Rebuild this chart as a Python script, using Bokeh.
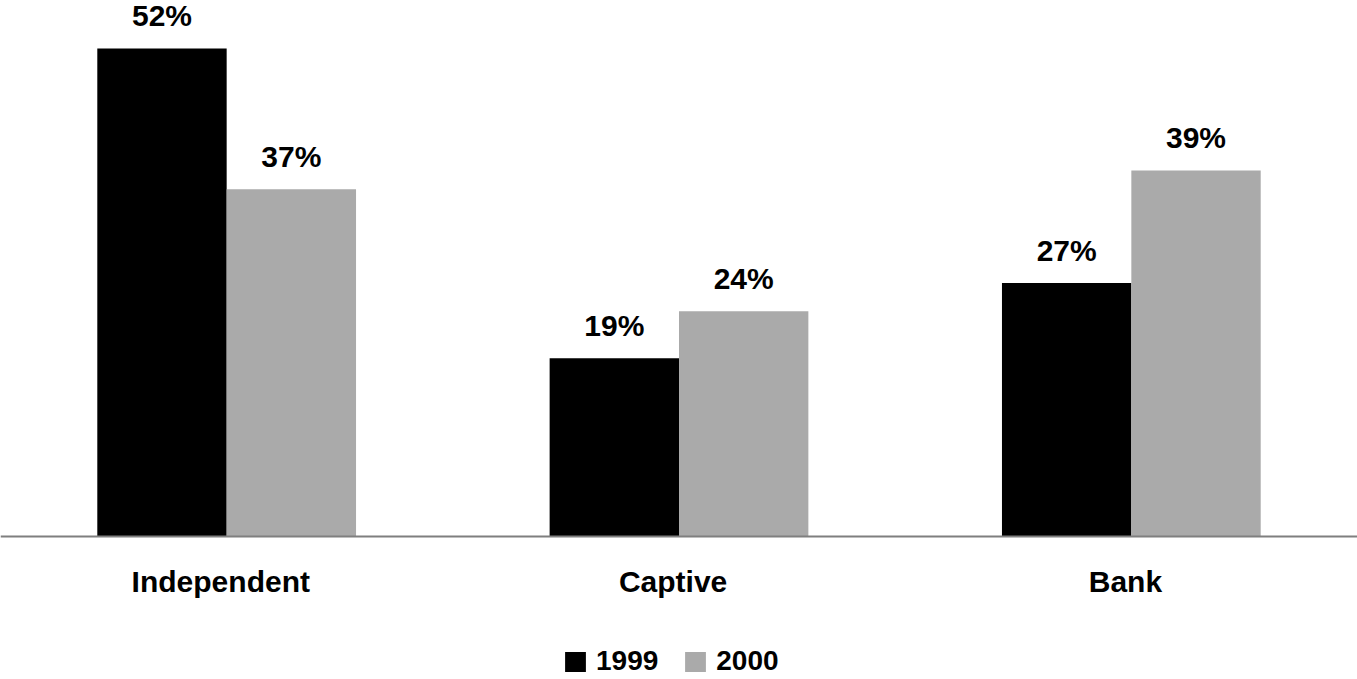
from bokeh.plotting import figure
from bokeh.models import (ColumnDataSource, FactorRange, Range1d, Span,
                          Legend, LegendItem)
from bokeh.transform import dodge
from bokeh.core.properties import value
from bokeh.embed import file_html
from bokeh.resources import INLINE

# Share by lender type
categories = ["Independent", "Captive", "Bank"]
years = ["1999", "2000"]
share_1999 = [52, 19, 27]
share_2000 = [37, 24, 39]

colors = {"1999": "#000000", "2000": "#AAAAAA"}
FONT = "Liberation Sans"

source = ColumnDataSource(data=dict(
    cat=categories,
    v1999=share_1999,
    v2000=share_2000,
    t1999=[f"{v}%" for v in share_1999],
    t2000=[f"{v}%" for v in share_2000],
    base=[0] * len(categories),
))

p = figure(
    width=1357, height=679,
    x_range=FactorRange(factors=categories, range_padding=0),
    y_range=Range1d(-15.237, 57.113),
    output_backend="svg", toolbar_location=None,
    min_border=0, outline_line_color=None,
)
p.axis.visible = False
p.grid.visible = False
p.background_fill_color = "white"
p.border_fill_color = "white"

bar_w = 0.286
off = 0.143

r99 = p.vbar(x=dodge("cat", -off, range=p.x_range), top="v1999", bottom=0,
             width=bar_w, source=source, fill_color=colors["1999"],
             line_color=None)
r00 = p.vbar(x=dodge("cat", off, range=p.x_range), top="v2000", bottom=0,
             width=bar_w, source=source, fill_color=colors["2000"],
             line_color=None)

# value labels above each bar
for col, txt, o in (("v1999", "t1999", -off), ("v2000", "t2000", off)):
    p.text(x=dodge("cat", o, range=p.x_range), y=col, text=txt, source=source,
           text_font=value(FONT), text_font_style="bold",
           text_font_size="30px", text_color="black",
           text_align="center", text_baseline="alphabetic", y_offset=-33)

# category names under the baseline
p.text(x=dodge("cat", -0.013, range=p.x_range), y="base", text="cat",
       source=source, text_font=value(FONT), text_font_style="bold",
       text_font_size="30px", text_color="black",
       text_align="center", text_baseline="alphabetic", y_offset=45)

# baseline
p.add_layout(Span(location=0, dimension="width", line_color="#7F7F7F",
                  line_width=2))

legend = Legend(
    items=[LegendItem(label="1999", renderers=[r99]),
           LegendItem(label="2000", renderers=[r00])],
    orientation="horizontal", location=(562, 2),
    glyph_width=26, glyph_height=25, label_standoff=8, spacing=24,
    padding=0, margin=0, border_line_color=None, background_fill_alpha=0,
    label_text_font=FONT, label_text_font_style="bold",
    label_text_font_size="28px", label_text_color="black",
)
p.add_layout(legend)

open("out.html", "w").write(file_html(p, INLINE))
